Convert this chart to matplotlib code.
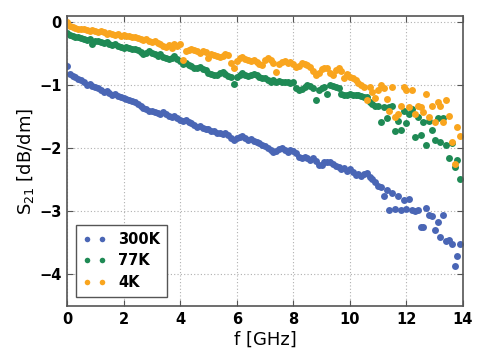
import matplotlib
matplotlib.use("Agg")
import matplotlib.pyplot as plt
import numpy as np

freq_ghz = [0.0, 0.1, 0.2, 0.3, 0.4, 0.5, 0.6, 0.7, 0.8, 0.9,
            1.0, 1.1, 1.2, 1.3, 1.4, 1.5, 1.6, 1.7, 1.8, 1.9,
            2.0, 2.1, 2.2, 2.3, 2.4, 2.5, 2.6, 2.7, 2.8, 2.9,
            3.0, 3.1, 3.2, 3.3, 3.4, 3.5, 3.6, 3.7, 3.8, 3.9,
            4.0, 4.1, 4.2, 4.3, 4.4, 4.5, 4.6, 4.7, 4.8, 4.9,
            5.0, 5.1, 5.2, 5.3, 5.4, 5.5, 5.6, 5.7, 5.8, 5.9,
            6.0, 6.1, 6.2, 6.3, 6.4, 6.5, 6.6, 6.7, 6.8, 6.9,
            7.0, 7.1, 7.2, 7.3, 7.4, 7.5, 7.6, 7.7, 7.8, 7.9,
            8.0, 8.1, 8.2, 8.3, 8.4, 8.5, 8.6, 8.7, 8.8, 8.9,
            9.0, 9.1, 9.2, 9.3, 9.4, 9.5, 9.6, 9.7, 9.8, 9.9,
            10.0, 10.1, 10.2, 10.3, 10.4, 10.5, 10.6, 10.7, 10.8, 10.9,
            11.0, 11.1, 11.2, 11.3, 11.4, 11.5, 11.6, 11.7, 11.8, 11.9,
            12.0, 12.1, 12.2, 12.3, 12.4, 12.5, 12.6, 12.7, 12.8, 12.9,
            13.0, 13.1, 13.2, 13.3, 13.4, 13.5, 13.6, 13.7, 13.8, 13.9]

s21_300k = [-0.70, -0.82, -0.85, -0.87, -0.90, -0.92, -0.95, -1.00, -0.98, -1.01,
            -1.03, -1.05, -1.07, -1.10, -1.09, -1.12, -1.15, -1.14, -1.17, -1.19,
            -1.20, -1.22, -1.24, -1.25, -1.27, -1.30, -1.33, -1.36, -1.38, -1.40,
            -1.41, -1.42, -1.44, -1.45, -1.43, -1.46, -1.48, -1.50, -1.49, -1.52,
            -1.55, -1.56, -1.55, -1.58, -1.60, -1.63, -1.66, -1.64, -1.68, -1.70,
            -1.70, -1.72, -1.73, -1.76, -1.75, -1.77, -1.76, -1.79, -1.84, -1.87,
            -1.84, -1.82, -1.80, -1.83, -1.86, -1.85, -1.88, -1.90, -1.92, -1.94,
            -1.97, -2.00, -2.03, -2.05, -2.04, -2.01, -1.99, -2.02, -2.05, -2.03,
            -2.04, -2.08, -2.13, -2.15, -2.14, -2.15, -2.18, -2.16, -2.20, -2.26,
            -2.27, -2.22, -2.21, -2.22, -2.25, -2.28, -2.30, -2.33, -2.31, -2.36,
            -2.33, -2.38, -2.42, -2.40, -2.44, -2.41, -2.39, -2.46, -2.49, -2.53,
            -2.60, -2.62, -2.75, -2.66, -2.98, -2.70, -2.96, -2.75, -2.98, -2.82,
            -2.96, -2.80, -2.98, -3.00, -2.98, -3.25, -3.24, -2.94, -3.06, -3.07,
            -3.30, -3.17, -3.41, -3.05, -3.47, -3.45, -3.52, -3.86, -3.71, -3.51]

s21_77k = [-0.17, -0.20, -0.22, -0.23, -0.24, -0.25, -0.26, -0.28, -0.27, -0.35,
           -0.29, -0.30, -0.31, -0.33, -0.32, -0.34, -0.36, -0.35, -0.37, -0.39,
           -0.40, -0.39, -0.41, -0.43, -0.42, -0.44, -0.47, -0.50, -0.49, -0.46,
           -0.48, -0.50, -0.53, -0.51, -0.55, -0.57, -0.58, -0.56, -0.54, -0.58,
           -0.62, -0.66, -0.64, -0.67, -0.70, -0.72, -0.73, -0.71, -0.74, -0.76,
           -0.80, -0.82, -0.84, -0.83, -0.80, -0.79, -0.82, -0.85, -0.87, -0.98,
           -0.86, -0.83, -0.81, -0.83, -0.85, -0.84, -0.82, -0.84, -0.86, -0.88,
           -0.89, -0.91, -0.94, -0.92, -0.95, -0.93, -0.94, -0.95, -0.94, -0.96,
           -0.95, -1.04, -1.08, -1.06, -1.02, -0.99, -1.01, -1.04, -1.24, -1.07,
           -1.05, -1.03, -1.13, -1.00, -1.01, -1.02, -1.05, -1.14, -1.16, -1.15,
           -1.14, -1.15, -1.16, -1.15, -1.17, -1.18, -1.19, -1.26, -1.30, -1.32,
           -1.33, -1.58, -1.34, -1.52, -1.35, -1.32, -1.73, -1.56, -1.71, -1.40,
           -1.60, -1.45, -1.37, -1.82, -1.50, -1.79, -1.58, -1.95, -1.56, -1.71,
           -1.87, -1.52, -1.90, -1.52, -1.95, -2.16, -1.92, -2.30, -2.19, -2.48]

s21_4k = [0.00, -0.06, -0.08, -0.09, -0.10, -0.11, -0.10, -0.12, -0.13, -0.12,
          -0.14, -0.15, -0.14, -0.16, -0.18, -0.17, -0.19, -0.20, -0.19, -0.21,
          -0.20, -0.22, -0.21, -0.23, -0.24, -0.25, -0.27, -0.28, -0.27, -0.30,
          -0.31, -0.30, -0.33, -0.35, -0.37, -0.39, -0.36, -0.41, -0.35, -0.38,
          -0.34, -0.60, -0.45, -0.44, -0.42, -0.44, -0.46, -0.48, -0.45, -0.47,
          -0.57, -0.50, -0.52, -0.54, -0.55, -0.53, -0.51, -0.52, -0.64, -0.73,
          -0.62, -0.57, -0.55, -0.58, -0.60, -0.61, -0.60, -0.63, -0.66, -0.68,
          -0.59, -0.57, -0.60, -0.65, -0.79, -0.66, -0.63, -0.62, -0.64, -0.63,
          -0.66, -0.71, -0.69, -0.65, -0.66, -0.68, -0.71, -0.78, -0.84, -0.80,
          -0.74, -0.72, -0.73, -0.80, -0.84, -0.76, -0.73, -0.77, -0.89, -0.82,
          -0.87, -0.89, -0.92, -0.96, -1.00, -1.02, -1.24, -1.03, -1.10, -1.20,
          -1.07, -1.00, -1.05, -1.21, -1.40, -1.02, -1.50, -1.45, -1.32, -1.02,
          -1.08, -1.35, -1.07, -1.45, -1.32, -1.35, -1.42, -1.13, -1.50, -1.32,
          -1.58, -1.26, -1.32, -1.58, -1.24, -1.48, -1.90, -2.25, -1.66, -1.81]

series_labels = ["300K", "77K", "4K"]
series_colors = ["#4a66b5", "#1f8a55", "#f9a51e"]

fig = plt.figure(figsize=(4.87, 3.62), dpi=100)
ax = fig.add_axes([0.1376, 0.1547, 0.8131, 0.8011])

for vals, lab, col in zip([s21_300k, s21_77k, s21_4k], series_labels, series_colors):
    ax.plot(freq_ghz, vals, linestyle="none", marker="o", markersize=5,
            markeredgewidth=0, color=col, label=lab)

ax.set_xlim(0, 14)
ax.set_ylim(-4.5, 0.1)
ax.set_xticks([0, 2, 4, 6, 8, 10, 12, 14])
ax.set_yticks([0, -1, -2, -3, -4])
ax.grid(True, linestyle=(0, (1, 2)), color="#b0b0b0", linewidth=0.8)
ax.set_axisbelow(True)
for sp in ax.spines.values():
    sp.set_color("#555555")
    sp.set_linewidth(1.2)
ax.tick_params(direction="in", length=4, width=0.8, color="#555555",
               top=True, right=True, labelsize=10.5, pad=4)
for t in ax.get_xticklabels() + ax.get_yticklabels():
    t.set_fontweight("bold")

ax.set_xlabel("f [GHz]", fontsize=13, labelpad=3)
ax.set_ylabel("S$_{21}$ [dB/dm]", fontsize=13, labelpad=2)

leg = ax.legend(loc="lower left", numpoints=2, fancybox=False, framealpha=1,
                edgecolor="#555555", prop={"weight": "bold", "size": 10.5},
                borderaxespad=0.6, handlelength=1.6, handletextpad=0.8,
                borderpad=0.5, labelspacing=0.45, markerscale=0.8)
leg.get_frame().set_linewidth(1.0)

fig.savefig("out.png", dpi=100)
